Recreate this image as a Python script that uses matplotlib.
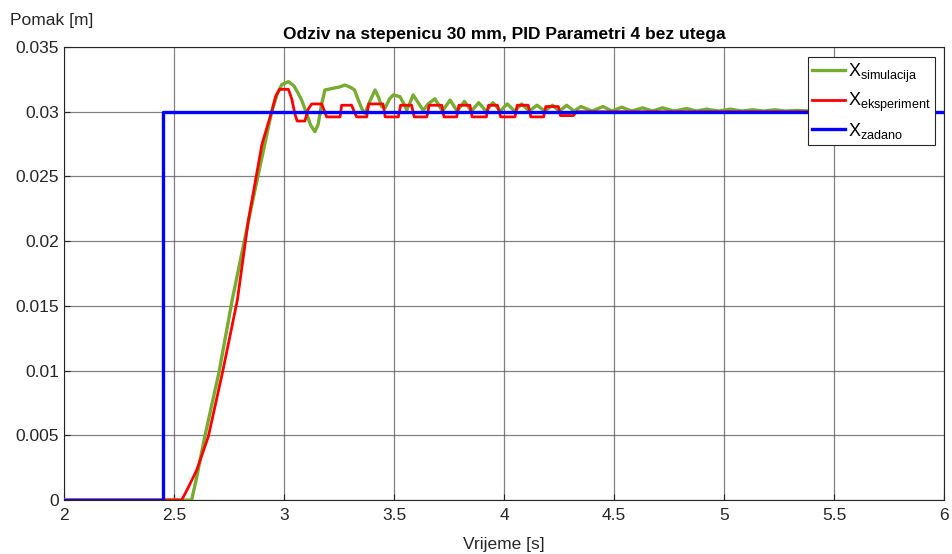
import matplotlib
matplotlib.use("Agg")
import matplotlib.pyplot as plt

plt.rcParams['font.family'] = ['Liberation Sans', 'DejaVu Sans']
plt.rcParams['mathtext.fontset'] = 'custom'
plt.rcParams['mathtext.rm'] = 'Liberation Sans'
plt.rcParams['mathtext.it'] = 'Liberation Sans'

# simulation response (time [s], displacement [m])
t_sim = [2.0, 2.58, 2.60, 2.64, 2.705, 2.765, 2.85, 2.944, 2.97, 2.99, 3.02, 3.045, 3.065,
         3.08, 3.10, 3.12, 3.14, 3.155, 3.17, 3.186, 3.22, 3.25, 3.277, 3.30, 3.32, 3.34,
         3.36, 3.368, 3.39, 3.414, 3.43, 3.444, 3.46, 3.48, 3.497, 3.527, 3.545, 3.558,
         3.573, 3.587, 3.61, 3.633, 3.655, 3.686, 3.72, 3.755, 3.787, 3.82, 3.852, 3.885,
         3.918, 3.95, 3.983, 4.015, 4.048, 4.08, 4.115, 4.15, 4.185, 4.22, 4.252, 4.285,
         4.318, 4.35, 4.40, 4.45, 4.49, 4.535, 4.58, 4.63, 4.675, 4.72, 4.775, 4.83, 4.875,
         4.92, 4.975, 5.03, 5.08, 5.13, 5.18, 5.23, 5.28, 5.33, 5.39, 5.45, 5.50, 5.55, 5.60]
x_sim = [0.0, 0.0, 0.0015, 0.0049, 0.0099, 0.0155, 0.0225, 0.0300, 0.0314, 0.0321, 0.03232,
         0.0320, 0.0314, 0.0309, 0.0300, 0.0290, 0.02846, 0.0290, 0.0305, 0.03168, 0.0318,
         0.0319, 0.03206, 0.0319, 0.0317, 0.0308, 0.0300, 0.02988, 0.0308, 0.03168, 0.0311,
         0.0304, 0.0303, 0.0310, 0.0313, 0.03116, 0.0306, 0.03013, 0.0307, 0.0313, 0.0307,
         0.0301, 0.0306, 0.0310, 0.03005, 0.0309, 0.03005, 0.0308, 0.03005, 0.0307, 0.03005,
         0.0307, 0.03005, 0.0306, 0.03005, 0.0306, 0.03005, 0.0305, 0.03005, 0.0305, 0.03005,
         0.0305, 0.03005, 0.0304, 0.03005, 0.0304, 0.03005, 0.03035, 0.03005, 0.0303, 0.03005,
         0.0303, 0.03005, 0.03025, 0.03005, 0.0302, 0.03005, 0.0302, 0.03005, 0.03015, 0.03005,
         0.03015, 0.03005, 0.0301, 0.03005, 0.0301, 0.03005, 0.0301, 0.03005]

# experiment response
t_exp = [2.0, 2.535, 2.56, 2.603, 2.656, 2.721, 2.788, 2.838, 2.90, 2.944, 2.962, 2.98,
         3.02, 3.035, 3.05, 3.06, 3.095, 3.11, 3.126, 3.171, 3.185, 3.194, 3.255, 3.262,
         3.307, 3.32, 3.33, 3.376, 3.385, 3.45, 3.46, 3.52, 3.53, 3.58, 3.592, 3.649, 3.66,
         3.717, 3.727, 3.785, 3.795, 3.845, 3.855, 3.92, 3.93, 3.97, 3.985, 4.05, 4.06,
         4.11, 4.122, 4.18, 4.19, 4.247, 4.257, 4.315, 4.33, 5.42]
x_exp = [0.0, 0.0, 0.0008, 0.0023, 0.0049, 0.0099, 0.01545, 0.0216, 0.0275, 0.0300, 0.0312,
         0.03173, 0.03173, 0.0310, 0.0298, 0.02928, 0.02928, 0.0302, 0.0306, 0.0306, 0.0300,
         0.0296, 0.0296, 0.0305, 0.0305, 0.0300, 0.0296, 0.0296, 0.0306, 0.0306, 0.0296,
         0.0296, 0.0305, 0.0305, 0.0296, 0.0296, 0.0305, 0.0305, 0.0296, 0.0296, 0.0305,
         0.0305, 0.0296, 0.0296, 0.0305, 0.0305, 0.0296, 0.0296, 0.0305, 0.0305, 0.0296,
         0.0296, 0.0304, 0.0304, 0.0297, 0.0297, 0.0300, 0.0300]

# reference (set point)
t_ref = [2.0, 2.45, 2.45, 6.0]
x_ref = [0.0, 0.0, 0.03, 0.03]

x_ticks = [2, 2.5, 3, 3.5, 4, 4.5, 5, 5.5, 6]
x_ticklabels = ['2', '2.5', '3', '3.5', '4', '4.5', '5', '5.5', '6']
y_ticks = [0, 0.005, 0.01, 0.015, 0.02, 0.025, 0.03, 0.035]
y_ticklabels = ['0', '0.005', '0.01', '0.015', '0.02', '0.025', '0.03', '0.035']

fig = plt.figure(figsize=(9.53, 5.54), dpi=100)
ax = fig.add_axes([64/953, 1-500/554, 880/953, 453/554])

ax.plot(t_sim, x_sim, color='#77AC30', lw=2.4, label='X$_{simulacija}$', zorder=3)
ax.plot(t_exp, x_exp, color='#FF0000', lw=2.0, label='X$_{eksperiment}$', zorder=4)
ax.plot(t_ref, x_ref, color='#0000FF', lw=2.4, label='X$_{zadano}$', zorder=5)

ax.set_xlim(2, 6)
ax.set_ylim(0, 0.035)
ax.set_xticks(x_ticks)
ax.set_xticklabels(x_ticklabels)
ax.set_yticks(y_ticks)
ax.set_yticklabels(y_ticklabels)
ax.tick_params(direction='in', length=4, labelsize=12.5, colors='#262626', width=0.8)
ax.tick_params(axis='x', pad=6)
ax.grid(True, color='#555555', lw=0.9, alpha=0.75)
for s in ax.spines.values():
    s.set_color('#262626')
    s.set_linewidth(0.8)

ax.set_title('Odziv na stepenicu 30 mm, PID Parametri 4 bez utega', fontsize=12.5,
             fontweight='bold', pad=6)
fig.text(10/953, 1-20/554, 'Pomak [m]', fontsize=12.5, color='#262626', va='center', ha='left')
fig.text(504/953, 1-544/554, 'Vrijeme [s]', fontsize=12.5, color='#262626', va='center', ha='center')

leg = ax.legend(loc='upper right', bbox_to_anchor=(0.9898, 0.978), fontsize=13,
                fancybox=False, framealpha=1, edgecolor='#262626', handlelength=1.8,
                handletextpad=0.15, borderpad=0.25, labelspacing=0.35, borderaxespad=0)
leg.get_frame().set_linewidth(0.8)

fig.savefig('out.png', dpi=100)
